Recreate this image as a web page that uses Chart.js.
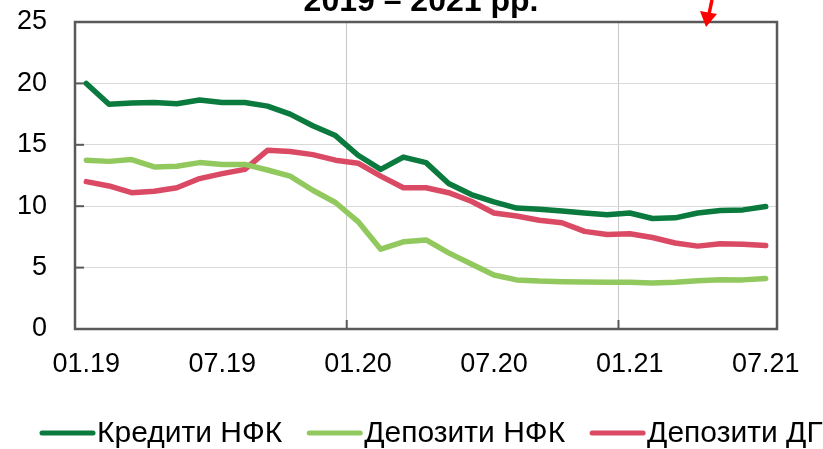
<!DOCTYPE html>
<html>
<head>
<meta charset="utf-8">
<script src="https://cdn.jsdelivr.net/npm/chart.js@4.4.1/dist/chart.umd.min.js"></script>
<style>
  html, body { margin: 0; padding: 0; background: #fff; }
  #wrap { width: 823px; height: 449px; position: relative; }
</style>
</head>
<body>
<div id="wrap"><canvas id="chart"></canvas></div>
<script>
const months = [
  "01.19", "02.19", "03.19", "04.19", "05.19", "06.19", "07.19", "08.19", "09.19", "10.19", "11.19", "12.19",
  "01.20", "02.20", "03.20", "04.20", "05.20", "06.20", "07.20", "08.20", "09.20", "10.20", "11.20", "12.20",
  "01.21", "02.21", "03.21", "04.21", "05.21", "06.21", "07.21"
]

const kredytyNFK = [
  20.0, 18.3, 18.4, 18.45, 18.35, 18.65, 18.45, 18.45, 18.15, 17.5, 16.55, 15.75,
  14.15, 13.0, 14.0, 13.55, 11.85, 10.95, 10.35, 9.85, 9.75, 9.6, 9.45, 9.3,
  9.45, 9.0, 9.05, 9.45, 9.65, 9.7, 9.97
]

const depozytyNFK = [
  13.75, 13.65, 13.8, 13.2, 13.25, 13.55, 13.4, 13.4, 12.95, 12.45, 11.3, 10.3,
  8.75, 6.5, 7.1, 7.25, 6.2, 5.3, 4.4, 4.0, 3.9, 3.85, 3.83, 3.8,
  3.8, 3.75, 3.8, 3.92, 4.02, 4.0, 4.12
]

const depozytyDG = [
  12.0, 11.65, 11.1, 11.22, 11.5, 12.25, 12.65, 13.0, 14.55, 14.45, 14.2, 13.75,
  13.5, 12.45, 11.5, 11.5, 11.1, 10.4, 9.45, 9.2, 8.85, 8.65, 7.95, 7.7,
  7.75, 7.45, 7.0, 6.75, 6.95, 6.9, 6.8
]

const seriesNames = ["Кредити НФК", "Депозити НФК", "Депозити ДГ"]
const seriesColors = ["#0a7a3e", "#92c95f", "#da4a65"]
const yTicks = [0, 5, 10, 15, 20, 25]
const titleText = "2019 – 2021 рр."

const FONT = "'Liberation Sans', Arial, sans-serif"
const AXIS = "#595959"

// box round the plot + inside tick marks
const framePlugin = {
  id: "frame",
  afterDatasetsDraw(chart) {
    const { ctx, chartArea: a, scales } = chart
    ctx.save()
    ctx.strokeStyle = AXIS
    ctx.lineWidth = 2.5
    ctx.strokeRect(a.left, a.top, a.right - a.left, a.bottom - a.top)
    ctx.lineWidth = 2
    yTicks.forEach(v => {
      const y = scales.y.getPixelForValue(v)
      ctx.beginPath()
      ctx.moveTo(a.left, y)
      ctx.lineTo(a.left + 9, y)
      ctx.stroke()
    })
    const x = scales.x
    ;[12, 24].forEach(i => {
      const px = (x.getPixelForValue(i - 1) + x.getPixelForValue(i)) / 2
      ctx.beginPath()
      ctx.moveTo(px, a.bottom)
      ctx.lineTo(px, a.bottom - 9)
      ctx.stroke()
    })
    ctx.restore()
  }
}

// cut-off title and the little red arrow at the top
const topPlugin = {
  id: "topDecor",
  afterDraw(chart) {
    const { ctx } = chart
    ctx.save()
    ctx.fillStyle = "#000"
    ctx.font = "bold 32px " + FONT
    ctx.textAlign = "center"
    ctx.textBaseline = "alphabetic"
    ctx.fillText(titleText, 421, 11)

    ctx.strokeStyle = "#ff0000"
    ctx.fillStyle = "#ff0000"
    ctx.lineWidth = 3.5
    ctx.beginPath()
    ctx.moveTo(712, 0)
    ctx.lineTo(709, 14)
    ctx.stroke()
    ctx.beginPath()
    ctx.moveTo(700, 11)
    ctx.lineTo(717, 14)
    ctx.lineTo(706, 27)
    ctx.closePath()
    ctx.fill()
    ctx.restore()
  }
}

// line-style legend along the bottom
const legendPlugin = {
  id: "lineLegend",
  afterDraw(chart) {
    const { ctx } = chart
    ctx.save()
    ctx.font = "30px " + FONT
    ctx.textBaseline = "middle"
    ctx.textAlign = "left"
    let x = 42
    const y = 433
    chart.data.datasets.forEach(ds => {
      ctx.strokeStyle = ds.borderColor
      ctx.lineWidth = 5
      ctx.lineCap = "round"
      ctx.beginPath()
      ctx.moveTo(x, y)
      ctx.lineTo(x + 51, y)
      ctx.stroke()
      x += 55
      ctx.fillStyle = "#000"
      ctx.fillText(ds.label, x, y + 1)
      x += ctx.measureText(ds.label).width + 27
    })
    ctx.restore()
  }
}

const datasets = [kredytyNFK, depozytyNFK, depozytyDG].map((data, i) => ({
  label: seriesNames[i],
  data,
  borderColor: seriesColors[i],
  backgroundColor: seriesColors[i],
  borderWidth: 5.5,
  pointRadius: 0,
  tension: 0,
  borderCapStyle: "round",
  borderJoinStyle: "round"
}))

new Chart(document.getElementById("chart").getContext("2d"), {
  type: "line",
  data: { labels: months, datasets },
  options: {
    responsive: true,
    maintainAspectRatio: false,
    animation: false,
    layout: { padding: { top: 22, right: 46, bottom: 0, left: 0 } },
    plugins: {
      legend: { display: false },
      tooltip: { enabled: false }
    },
    scales: {
      x: {
        offset: true,
        afterFit: s => { s.height = 120; s.paddingLeft = 0; s.paddingRight = 0 },
        border: { display: false },
        grid: {
          offset: true,
          drawTicks: false,
          lineWidth: 1,
          color: c => (c.index === 12 || c.index === 24) ? "#c8c8c8" : "rgba(0,0,0,0)"
        },
        ticks: {
          autoSkip: false,
          maxRotation: 0,
          padding: 19,
          color: "#000",
          font: { family: FONT, size: 27 },
          callback: (v, i) => (i % 6 === 0 ? months[i] : "")
        }
      },
      y: {
        min: 0,
        max: 25,
        afterFit: s => { s.width = 75; s.paddingTop = 0; s.paddingBottom = 0 },
        border: { display: false },
        grid: { drawTicks: false, color: "#d9d9d9", lineWidth: 1 },
        ticks: {
          stepSize: 5,
          padding: 28,
          color: "#000",
          font: { family: FONT, size: 27 }
        }
      }
    }
  },
  plugins: [framePlugin, topPlugin, legendPlugin]
})
</script>
</body>
</html>
